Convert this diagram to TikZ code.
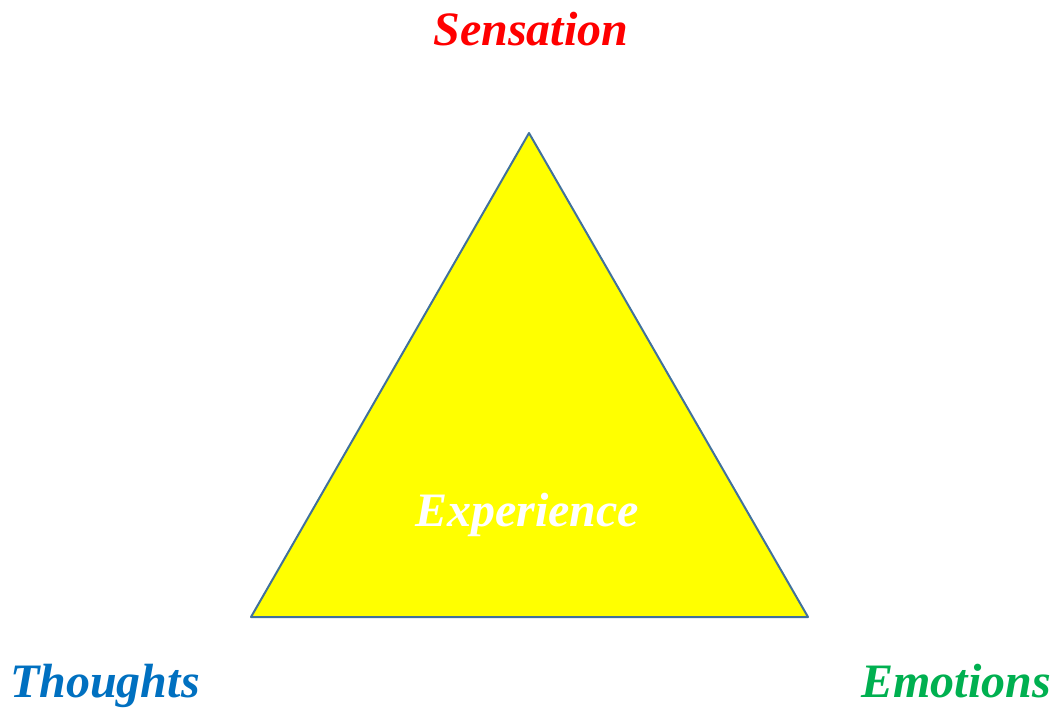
\documentclass[tikz,border=0pt]{standalone}
\usepackage{fontspec}
\setmainfont{Liberation Serif}
\definecolor{edgeblue}{HTML}{41719C}
\definecolor{tblue}{HTML}{0070C0}
\definecolor{tgreen}{HTML}{00B050}
\definecolor{fillyellow}{HTML}{FFFF00}
\tikzset{lbl/.style={font=\fontsize{48}{50}\selectfont\bfseries\itshape, inner sep=0pt, anchor=base}}
\begin{document}
\begin{tikzpicture}[x=1pt,y=-1pt]
\useasboundingbox (0,0) rectangle (1059,711);
\coordinate (A) at (529,133);
\coordinate (B) at (251,617);
\coordinate (C) at (808,617);
\draw[edgeblue, line width=2pt, fill=fillyellow, line join=round] (A) -- (B) -- (C) -- cycle;
\node[lbl, text=red] (sens) at (531,46) {Sensation};
\node[lbl, text=tblue] (thou) at (105,697) {Thoughts};
\node[lbl, text=tgreen] (emo) at (956,697) {Emotions};
\node[lbl, text=white] (exp) at (527,526) {Experience};
\end{tikzpicture}
\end{document}
